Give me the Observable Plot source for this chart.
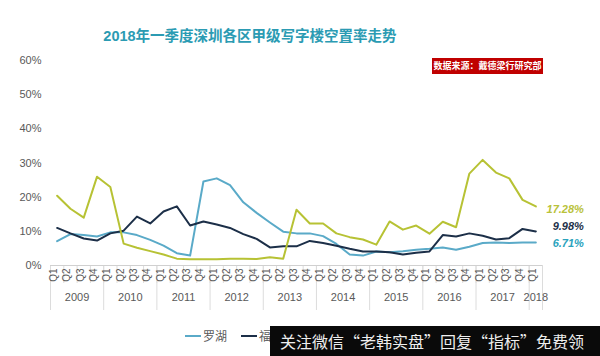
<!DOCTYPE html>
<html><head><meta charset="utf-8">
<script src="https://cdn.jsdelivr.net/npm/d3@7"></script>
<script src="https://cdn.jsdelivr.net/npm/@observablehq/plot@0.6"></script>
<style>
body{margin:0;background:#fff;font-family:"Liberation Sans","Noto Sans CJK SC",sans-serif;}
#wrap{position:relative;width:600px;height:356px;overflow:hidden;}
#title{position:absolute;left:0;width:500px;top:24px;text-align:center;font:bold 14.5px "Liberation Sans","Noto Sans CJK SC",sans-serif;color:#2b9bb3;}
#src{position:absolute;left:432px;top:58px;width:111px;height:16px;background:#c00000;color:#fff;font:bold 9px "Noto Sans CJK SC",sans-serif;line-height:16px;text-align:center;}
#legend{position:absolute;top:327px;left:185px;font:12px "Noto Sans CJK SC",sans-serif;color:#595959;display:flex;gap:14px;}
#legend span{display:flex;align-items:center;}
#legend i{display:inline-block;width:16px;height:2px;margin-right:2px;}
#banner{position:absolute;left:270px;top:326px;width:330px;height:30px;background:#0a0a0a;color:#eee;font:16px "Noto Sans CJK SC",sans-serif;line-height:30px;padding-left:10px;white-space:nowrap;box-sizing:border-box;}
</style></head>
<body><div id="wrap"><div id="chart"></div>
<div id="title">2018年一季度深圳各区甲级写字楼空置率走势</div>
<div id="src">数据来源：戴德梁行研究部</div>
<div id="legend"></div>
<div id="banner">关注微信“老韩实盘”回复“指标”免费领</div>
</div>
<script>
const years = ["2009","2010","2011","2012","2013","2014","2015","2016","2017","2018"];
const quarters = ["Q1","Q2","Q3","Q4"];
const seriesNames = ["罗湖","福田","南山"];
const seriesColors = ["#5aaac8","#1c2f48","#b7c234"];
const luohu = [7.1,9.2,8.9,8.5,9.7,9.7,8.9,7.5,5.8,3.6,2.9,24.6,25.5,23.5,18.5,15.4,12.6,9.9,9.4,9.4,8.6,6.3,3.2,2.9,4.1,3.9,4.2,4.6,4.9,5.3,4.6,5.5,6.6,6.7,6.6,6.7,6.71];
const futian = [11.0,9.4,7.9,7.3,9.4,10.2,14.3,12.3,15.8,17.3,11.7,12.9,12.0,11.0,9.2,7.8,5.3,5.6,5.6,7.2,6.6,5.8,4.9,4.1,4.1,3.9,3.2,3.7,4.1,8.9,8.5,9.4,8.7,7.6,8.0,10.7,9.98];
const nanshan = [20.4,16.6,14.0,26.0,23.0,6.4,5.2,4.2,3.2,2.0,1.8,1.8,1.8,2.0,2.0,1.9,2.4,2.0,16.3,12.3,12.3,9.4,8.3,7.6,6.1,12.9,10.5,11.7,9.3,12.8,11.2,26.9,30.9,27.2,25.5,19.2,17.28];
const lastLabels = ["6.71%","9.98%","17.28%"];
const legendNames = ["罗湖","福田"];
const yTicks = [0,10,20,30,40,50,60];

const cats = [];
years.forEach(y => quarters.forEach(q => { if (cats.length < luohu.length) cats.push({year:y, q}); }));
cats.forEach((c,i)=>c.i=i);
const rows = [];
[luohu,futian,nanshan].forEach((arr,s)=>arr.forEach((v,i)=>rows.push({series:seriesNames[s], i, v})));
const yearGroups = years.map(y => {
  const idx = cats.filter(c=>c.year===y).map(c=>c.i);
  return {year:y, mid:(idx[0]+idx[idx.length-1])/2, start:idx[0]-0.5, end:idx[idx.length-1]+0.5};
});
const yearBounds = [yearGroups[0].start, ...yearGroups.map(g=>g.end)];
const qBounds = cats.map(c=>c.i+0.5);

const n = luohu.length;
const last = seriesNames.map((s,k)=>({series:s, v:[luohu,futian,nanshan][k][n-1], label:lastLabels[k]}));
const H = 356, MT = 60, MB = 91, frameH = H - MT - MB;

const plot = Plot.plot({
  width:600, height:H,
  marginLeft:50, marginRight:58, marginTop:MT, marginBottom:MB,
  style:{fontFamily:"Liberation Sans, Arial, sans-serif", background:"transparent"},
  x:{domain:[-0.5,n-0.5], axis:null},
  y:{domain:[0,60], axis:null},
  color:{domain:seriesNames, range:seriesColors},
  marks:[
    Plot.ruleX(qBounds.slice(0,-1), {stroke:"#dcdcdc", insetTop:frameH, insetBottom:-18}),
    Plot.ruleX(yearBounds, {stroke:"#dcdcdc", insetTop:frameH, insetBottom:-45}),
    Plot.ruleY([0], {stroke:"#d0d0d0"}),
    Plot.axisY(yTicks, {tickSize:0, tickPadding:9, fontSize:11, fill:"#595959", label:null, tickFormat:d=>d+"%"}),
    Plot.text(cats, {x:"i", text:"q", frameAnchor:"bottom", dy:3, rotate:-90, textAnchor:"end", fontSize:10, fill:"#595959"}),
    Plot.text(yearGroups, {x:"mid", text:"year", frameAnchor:"bottom", dy:35, fontSize:11, fill:"#595959"}),
    Plot.line(rows, {x:"i", y:"v", stroke:"series", z:"series", strokeWidth:2}),
    Plot.text([last[2]], {x:()=>n-1, y:"v", text:"label", dx:48, dy:3, textAnchor:"end", fontWeight:"bold", fontStyle:"italic", fontSize:11, fill:"#b9c23a"}),
    Plot.text([last[1]], {x:()=>n-1, y:"v", text:"label", dx:48, dy:-5, textAnchor:"end", fontWeight:"bold", fontStyle:"italic", fontSize:11, fill:"#1c2f48"}),
    Plot.text([last[0]], {x:()=>n-1, y:"v", text:"label", dx:48, dy:1, textAnchor:"end", fontWeight:"bold", fontStyle:"italic", fontSize:11, fill:"#2aa3bd"})
  ]
});
document.getElementById("chart").appendChild(plot);

const lg = document.getElementById("legend");
legendNames.forEach((s,k)=>{
  const sp=document.createElement("span");
  sp.innerHTML=`<i style="background:${seriesColors[k]}"></i>${s}`;
  lg.appendChild(sp);
});
</script></body></html>
